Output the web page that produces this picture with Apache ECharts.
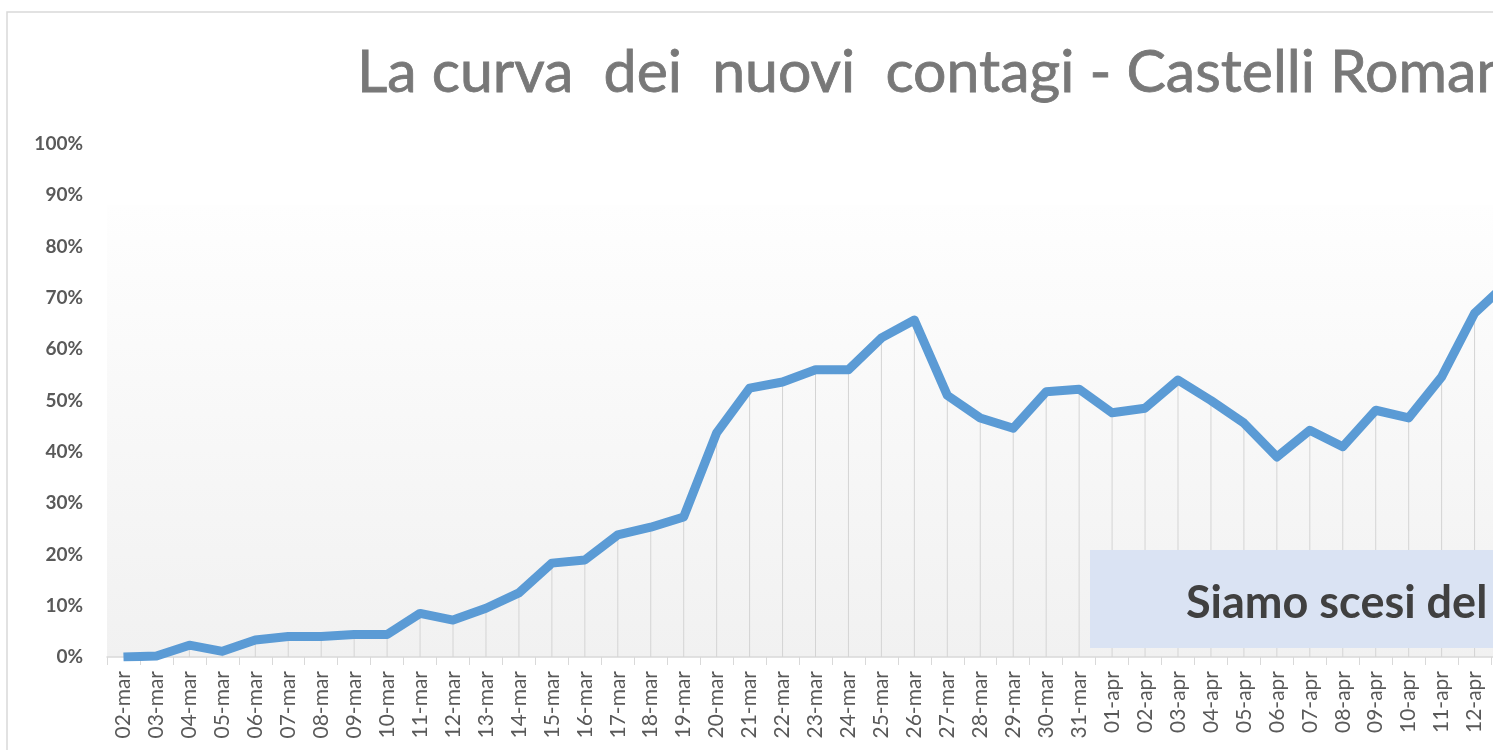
<!DOCTYPE html>
<html>
<head>
<meta charset="utf-8">
<script src="https://cdn.jsdelivr.net/npm/echarts@6/dist/echarts.min.js"></script>
<style>
  html, body { margin: 0; padding: 0; background: #fff; }
  #curva { width: 1493px; height: 750px; }
</style>
</head>
<body>
<div id="curva"></div>
<script>
// giorni (l'ultimo, 13-apr, esce dal bordo destro)
const giorni = ['02-mar','03-mar','04-mar','05-mar','06-mar','07-mar','08-mar','09-mar','10-mar',
  '11-mar','12-mar','13-mar','14-mar','15-mar','16-mar','17-mar','18-mar','19-mar','20-mar',
  '21-mar','22-mar','23-mar','24-mar','25-mar','26-mar','27-mar','28-mar','29-mar','30-mar',
  '31-mar','01-apr','02-apr','03-apr','04-apr','05-apr','06-apr','07-apr','08-apr','09-apr',
  '10-apr','11-apr','12-apr','13-apr'];
// percentuale nuovi contagi
const contagi = [0, 0.2, 2.3, 1.1, 3.3, 4, 4, 4.4, 4.4,
  8.5, 7.2, 9.5, 12.5, 18.3, 18.9, 23.8, 25.3, 27.3, 43.7,
  52.4, 53.6, 56, 56, 62.2, 65.7, 51, 46.6, 44.6, 51.7,
  52.2, 47.6, 48.5, 54, 50, 45.6, 39, 44.2, 41, 48.1,
  46.6, 54.6, 67, 73];
const yTicks = [0, 100, 10]; // min, max, passo

const font = 'Lato, "Open Sans", sans-serif';
const chart = echarts.init(document.getElementById('curva'));

let option = {
  backgroundColor: '#fff',
  animation: false,
  title: {
    text: 'La curva  dei  nuovi  contagi - Castelli Romani',
    left: 352,
    top: 38,
    textStyle: { color: '#787878', fontFamily: font, fontWeight: 'normal', fontSize: 59,
      textBorderColor: '#787878', textBorderWidth: 0.8 }
  },
  graphic: [
    { type: 'rect', z: -10, shape: { x: 7, y: 12, width: 1700, height: 900 },
      style: { fill: 'none', stroke: '#d9d9d9', lineWidth: 1.5 } },
    { type: 'rect', z: -5, shape: { x: 107, y: 205, width: 1500, height: 452 },
      style: { fill: new echarts.graphic.LinearGradient(0, 0, 0, 1, [
        { offset: 0, color: '#fefefe' }, { offset: 1, color: '#f1f1f1' }]) } },
    { type: 'rect', z: 50, shape: { x: 1090, y: 550, width: 500, height: 98 },
      style: { fill: '#dae3f3' } },
    { type: 'text', z: 51, x: 1186, y: 603,
      style: { text: 'Siamo scesi del', fill: '#404040', font: 'bold 45px ' + font,
        textVerticalAlign: 'middle' } }
  ],
  grid: {
    left: 107, right: -31, top: 144, bottom: 93,
    containLabel: false, outerBoundsMode: 'none'
  },
  xAxis: {
    type: 'category',
    data: giorni,
    boundaryGap: true,
    axisLine: { lineStyle: { color: '#d9d9d9', width: 1.5 } },
    axisTick: { show: true, length: 8, lineStyle: { color: '#d9d9d9' } },
    axisLabel: { rotate: 90, interval: 0, margin: 14, color: '#595959', fontFamily: font, fontSize: 21 },
    splitLine: { show: false }
  },
  yAxis: {
    type: 'value',
    min: yTicks[0], max: yTicks[1], interval: yTicks[2],
    axisLine: { show: false },
    axisTick: { show: false },
    splitLine: { show: false },
    axisLabel: { formatter: '{value}%', margin: 24, color: '#595959', fontFamily: font, fontWeight: 'bold', fontSize: 19 }
  },
  series: [
    {
      // linee di proiezione verso l'asse
      name: 'drop',
      type: 'bar',
      barWidth: 1,
      silent: true,
      itemStyle: { color: '#d4d4d4' },
      data: contagi
    },
    {
      name: 'Nuovi contagi',
      type: 'line',
      showSymbol: false,
      lineStyle: { color: '#5b9bd5', width: 9, join: 'round' },
      itemStyle: { color: '#5b9bd5' },
      data: contagi
    }
  ]
};
chart.setOption(option);
</script>
</body>
</html>
